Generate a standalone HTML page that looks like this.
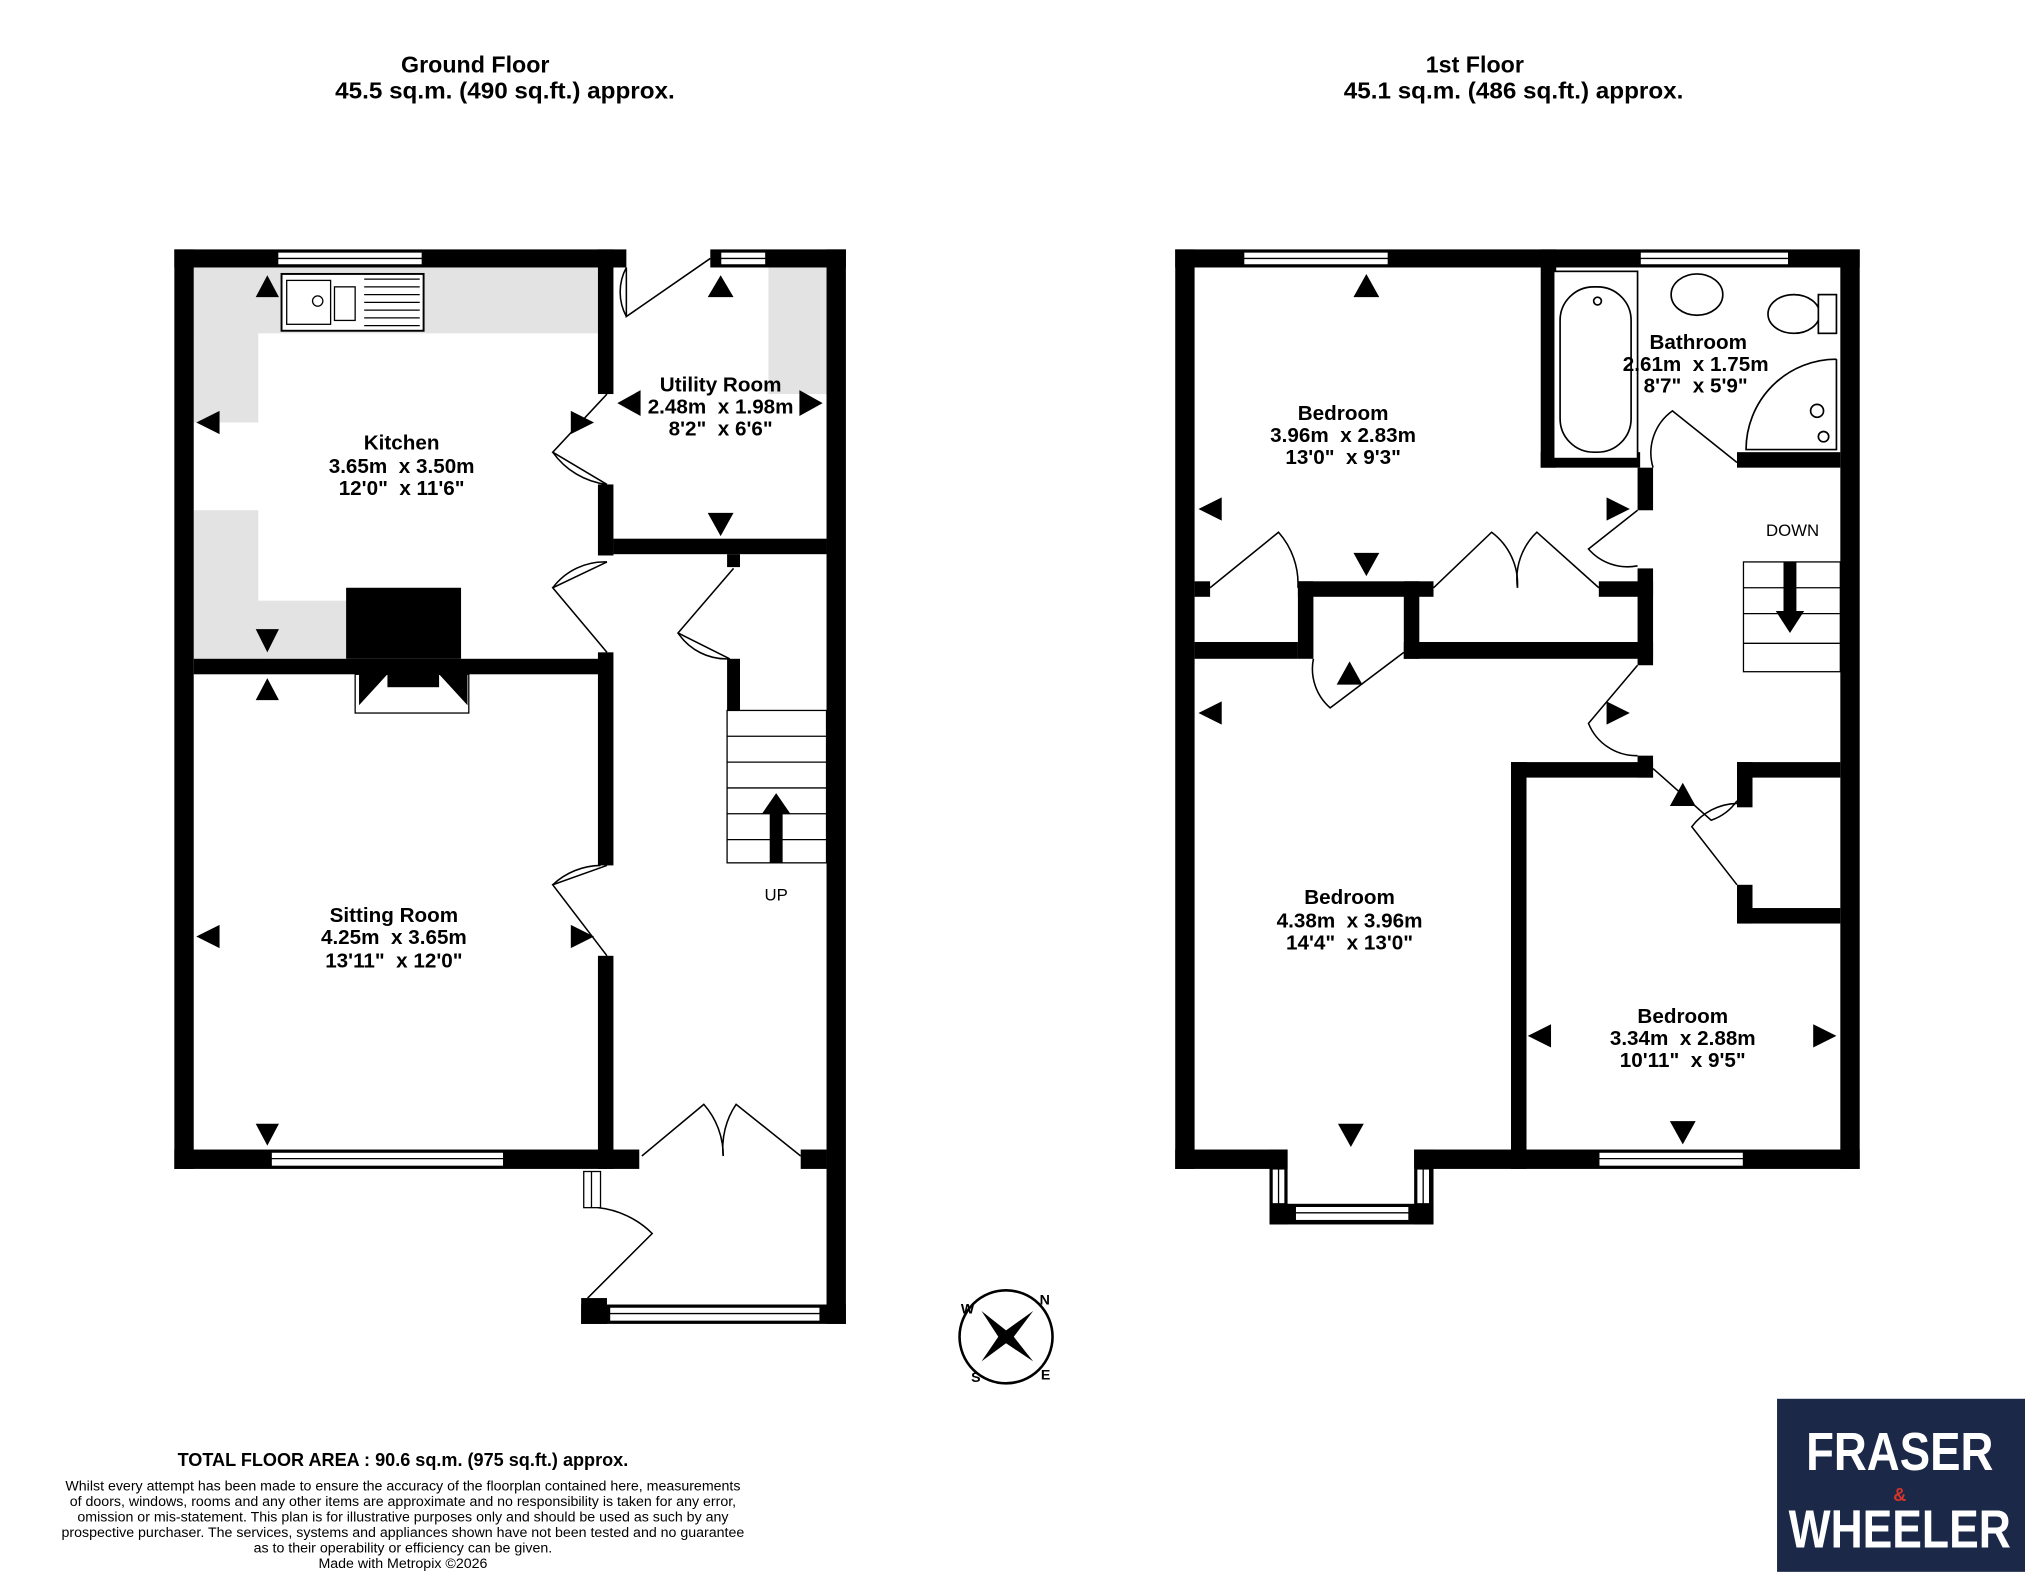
<!DOCTYPE html>
<html><head><meta charset="utf-8"><style>
html,body{margin:0;padding:0;background:#fff;}
svg{display:block;}
text{font-family:"Liberation Sans",Arial,sans-serif;fill:#000;white-space:pre;}
.b{font-weight:bold;}
</style></head><body>
<svg width="2025" height="1572" viewBox="0 0 1568 1217" xmlns="http://www.w3.org/2000/svg" xml:space="preserve">
<rect width="1568" height="1217" fill="#fff"/>
<!-- headings -->
<text x="368" y="56" font-size="18" class="b" text-anchor="middle">Ground Floor</text>
<text x="391" y="76" font-size="18" class="b" text-anchor="middle" textLength="263" lengthAdjust="spacingAndGlyphs">45.5 sq.m. (490 sq.ft.) approx.</text>
<text x="1142" y="56" font-size="18" class="b" text-anchor="middle">1st Floor</text>
<text x="1172" y="76" font-size="18" class="b" text-anchor="middle" textLength="263" lengthAdjust="spacingAndGlyphs">45.1 sq.m. (486 sq.ft.) approx.</text>

<!-- ground floor greys -->
<g fill="#e3e3e3">
<rect x="150" y="207" width="313" height="51"/>
<rect x="150" y="207" width="50" height="120"/>
<rect x="150" y="395" width="50" height="115"/>
<rect x="150" y="465" width="118" height="45"/>
<rect x="595" y="207" width="45" height="98"/>
</g>
<!-- sink -->
<rect x="218" y="212" width="110" height="44" fill="#fff" stroke="#000" stroke-width="1.5"/>
<rect x="222" y="217" width="34" height="34" fill="none" stroke="#000"/>
<rect x="259" y="222" width="16" height="26" fill="none" stroke="#000"/>
<circle cx="246" cy="233" r="4" fill="none" stroke="#000"/>
<g stroke="#000" stroke-width="1"><line x1="282" y1="216" x2="325" y2="216"/><line x1="282" y1="222" x2="325" y2="222"/><line x1="282" y1="228" x2="325" y2="228"/><line x1="282" y1="234" x2="325" y2="234"/><line x1="282" y1="240" x2="325" y2="240"/><line x1="282" y1="246" x2="325" y2="246"/><line x1="282" y1="252" x2="325" y2="252"/></g>

<g fill="#000">
<rect x="135" y="193" width="350" height="14"/>
<rect x="550" y="193" width="105" height="14"/>
<rect x="135" y="193" width="15" height="712"/>
<rect x="135" y="890" width="335" height="15"/>
<rect x="463" y="193" width="12" height="112"/>
<rect x="463" y="375" width="12" height="55"/>
<rect x="463" y="505" width="12" height="165"/>
<rect x="463" y="740" width="12" height="165"/>
<rect x="640" y="193" width="15" height="832"/>
<rect x="475" y="417" width="165" height="12"/>
<rect x="150" y="510" width="320" height="12"/>
<rect x="463" y="890" width="32" height="15"/>
<rect x="620" y="890" width="20" height="15"/>
<rect x="563" y="429" width="10" height="10"/>
<rect x="563" y="510" width="10" height="40"/>
<rect x="450" y="1005" width="20" height="20"/>
<rect x="450" y="1010" width="205" height="15"/>
<rect x="268" y="455" width="89" height="55"/>
<rect x="275" y="522" width="88" height="30" fill="#fff" stroke="#000" stroke-width="1"/>
<polygon points="278,522 300,522 278,546"/>
<polygon points="340,522 362,522 362,546"/>
<rect x="300" y="522" width="40" height="10"/>
<rect x="910" y="193" width="530" height="14"/>
<rect x="910" y="193" width="15" height="712"/>
<rect x="1425" y="193" width="15" height="712"/>
<rect x="910" y="890" width="87" height="15"/>
<rect x="1095" y="890" width="345" height="15"/>
<rect x="983" y="890" width="14" height="58"/>
<rect x="1095" y="890" width="15" height="58"/>
<rect x="983" y="932" width="127" height="16"/>
<rect x="1193" y="193" width="12" height="169"/>
<rect x="1193" y="350" width="77" height="12"/>
<rect x="1345" y="350" width="80" height="12"/>
<rect x="925" y="450" width="12" height="12"/>
<rect x="1005" y="450" width="105" height="12"/>
<rect x="1238" y="450" width="42" height="12"/>
<rect x="1005" y="450" width="12" height="60"/>
<rect x="1087" y="450" width="12" height="60"/>
<rect x="925" y="497" width="80" height="13"/>
<rect x="1087" y="497" width="193" height="13"/>
<rect x="1268" y="362" width="12" height="33"/>
<rect x="1268" y="440" width="12" height="75"/>
<rect x="1268" y="585" width="12" height="17"/>
<rect x="1170" y="590" width="110" height="12"/>
<rect x="1345" y="590" width="80" height="12"/>
<rect x="1170" y="590" width="12" height="315"/>
<rect x="1345" y="590" width="12" height="35"/>
<rect x="1345" y="685" width="12" height="30"/>
<rect x="1345" y="703" width="80" height="12"/>
</g>

<g fill="#fff" stroke="#000" stroke-width="1">
<rect x="215" y="195" width="112" height="10"/><line x1="215" y1="200" x2="327" y2="200"/>
<rect x="558" y="195" width="35" height="10"/><line x1="558" y1="200" x2="593" y2="200"/>
<rect x="210" y="892" width="180" height="11"/><line x1="210" y1="897" x2="390" y2="897"/>
<rect x="452" y="907" width="13" height="28"/><line x1="458" y1="907" x2="458" y2="935"/>
<rect x="472" y="1012" width="163" height="11"/><line x1="472" y1="1017" x2="635" y2="1017"/>
<rect x="963" y="195" width="112" height="10"/><line x1="963" y1="200" x2="1075" y2="200"/>
<rect x="1270" y="195" width="115" height="10"/><line x1="1270" y1="200" x2="1385" y2="200"/>
<rect x="1238" y="892" width="112" height="11"/><line x1="1238" y1="897" x2="1350" y2="897"/>
<rect x="985" y="905" width="10" height="27"/><line x1="990" y1="905" x2="990" y2="932"/>
<rect x="1097" y="905" width="10" height="27"/><line x1="1102" y1="905" x2="1102" y2="932"/>
<rect x="1003" y="934" width="88" height="11"/><line x1="1003" y1="939" x2="1091" y2="939"/>
</g>

<g fill="none" stroke="#000" stroke-width="1.2">
<path d="M485 207 L485 245 L550 200"/><path d="M485 245 A40 40 0 0 1 485 207" />
<path d="M470 305 L428 350 L470 375"/><path d="M428 350 A60 60 0 0 0 470 375"/>
<path d="M470 505 L428 455 L470 435"/><path d="M428 455 A50 50 0 0 1 470 435"/>
<path d="M470 670 L428 685 L470 740"/><path d="M428 685 A55 55 0 0 1 465 670"/>
<path d="M568 440 L525 490 L565 510"/><path d="M525 490 A45 45 0 0 0 565 510"/>
<path d="M497 895 L545 855 A60 60 0 0 1 560 895"/>
<path d="M620 895 L570 855 A60 60 0 0 0 560 895"/>
<path d="M455 1005 L505 955 A70 70 0 0 0 463 935"/>
<path d="M937 455 L990 412 A60 60 0 0 1 1005 455"/>
<path d="M1110 455 L1155 412 A50 50 0 0 1 1175 455"/>
<path d="M1238 455 L1190 412 A50 50 0 0 0 1175 455"/>
<path d="M1017 510 A40 40 0 0 0 1030 548 L1087 505"/>
<path d="M1268 395 L1230 425 A40 40 0 0 0 1268 438"/>
<path d="M1268 515 L1230 560 A40 40 0 0 0 1268 585"/>
<path d="M1280 595 L1325 635 A40 40 0 0 0 1345 620"/>
<path d="M1345 685 L1310 640 A45 45 0 0 1 1345 622"/>
<path d="M1280 362 A40 40 0 0 1 1295 318 L1345 358"/>
</g>

<g fill="none" stroke="#000" stroke-width="1">
<rect x="563" y="550" width="77" height="118"/>
<line x1="563" y1="570" x2="640" y2="570"/><line x1="563" y1="590" x2="640" y2="590"/>
<line x1="563" y1="610" x2="640" y2="610"/><line x1="563" y1="630" x2="640" y2="630"/>
<line x1="563" y1="650" x2="640" y2="650"/>
<rect x="1350" y="435" width="75" height="85"/>
<line x1="1350" y1="455" x2="1425" y2="455"/><line x1="1350" y1="475" x2="1425" y2="475"/>
<line x1="1350" y1="498" x2="1425" y2="498"/>
</g>
<g fill="#000">
<rect x="596" y="630" width="10" height="38"/><polygon points="590,630 612,630 601,614"/>
<rect x="1381" y="435" width="10" height="40"/><polygon points="1375,473 1397,473 1386,490"/>
</g>
<text x="601" y="697" font-size="13" text-anchor="middle">UP</text>
<text x="1388" y="415" font-size="13" text-anchor="middle">DOWN</text>

<g fill="#fff" stroke="#000" stroke-width="1.3">
<rect x="1203" y="210" width="65" height="145"/>
<rect x="1208" y="222" width="55" height="128" rx="26"/>
<circle cx="1237" cy="233" r="3"/>
<ellipse cx="1314" cy="228" rx="20" ry="16"/>
<ellipse cx="1389" cy="243" rx="20" ry="15"/>
<rect x="1408" y="228" width="14" height="30"/>
<path d="M1422 278 L1422 348 L1352 348 A70 70 0 0 1 1422 278"/>
<circle cx="1407" cy="318" r="5"/><circle cx="1412" cy="338" r="4"/>
</g>

<g fill="#000">
<polygon points="198,230 216,230 207,213"/>
<polygon points="548,230 568,230 558,213"/>
<polygon points="152,327 170,318 170,336"/>
<polygon points="460,327 442,318 442,336"/>
<polygon points="478,312 496,302 496,322"/>
<polygon points="637,312 619,302 619,322"/>
<polygon points="548,397 568,397 558,415"/>
<polygon points="198,487 216,487 207,505"/>
<polygon points="198,542 216,542 207,525"/>
<polygon points="152,725 170,716 170,734"/>
<polygon points="460,725 442,716 442,734"/>
<polygon points="198,870 216,870 207,887"/>
<polygon points="1048,230 1068,230 1058,212"/>
<polygon points="928,394 946,385 946,403"/>
<polygon points="1048,428 1068,428 1058,446"/>
<polygon points="1035,530 1055,530 1045,512"/>
<polygon points="928,552 946,543 946,561"/>
<polygon points="1262,394 1244,385 1244,403"/>
<polygon points="1262,552 1244,543 1244,561"/>
<polygon points="1293,624 1313,624 1303,606"/>
<polygon points="1183,802 1201,793 1201,811"/>
<polygon points="1422,802 1404,793 1404,811"/>
<polygon points="1036,870 1056,870 1046,888"/>
<polygon points="1293,868 1313,868 1303,886"/>
</g>

<g class="b" text-anchor="middle" font-size="16">
<text x="311" y="348">Kitchen</text><text x="311" y="366">3.65m  x 3.50m</text><text x="311" y="383">12'0"  x 11'6"</text>
<text x="558" y="303">Utility Room</text><text x="558" y="320">2.48m  x 1.98m</text><text x="558" y="337">8'2"  x 6'6"</text>
<text x="305" y="714">Sitting Room</text><text x="305" y="731">4.25m  x 3.65m</text><text x="305" y="749">13'11"  x 12'0"</text>
<text x="1040" y="325">Bedroom</text><text x="1040" y="342">3.96m  x 2.83m</text><text x="1040" y="359">13'0"  x 9'3"</text>
<text x="1315" y="270">Bathroom</text><text x="1313" y="287">2.61m  x 1.75m</text><text x="1313" y="304">8'7"  x 5'9"</text>
<text x="1045" y="700">Bedroom</text><text x="1045" y="718">4.38m  x 3.96m</text><text x="1045" y="735">14'4"  x 13'0"</text>
<text x="1303" y="792">Bedroom</text><text x="1303" y="809">3.34m  x 2.88m</text><text x="1303" y="826">10'11"  x 9'5"</text>
</g>

<!-- compass -->
<circle cx="779" cy="1035" r="36" fill="none" stroke="#000" stroke-width="2"/>
<polygon points="800,1015 785,1035 800,1054 779,1040 760,1054 773,1035 760,1015 779,1030" fill="#000"/>
<text x="805" y="1010" font-size="11" font-weight="bold">N</text>
<text x="744" y="1017" font-size="11" font-weight="bold">W</text>
<text x="806" y="1068" font-size="11" font-weight="bold">E</text>
<text x="752" y="1070" font-size="11" font-weight="bold">S</text>

<text x="312" y="1135" font-size="14" class="b" text-anchor="middle">TOTAL FLOOR AREA : 90.6 sq.m. (975 sq.ft.) approx.</text>
<g font-size="11" text-anchor="middle">
<text x="312" y="1154">Whilst every attempt has been made to ensure the accuracy of the floorplan contained here, measurements</text>
<text x="312" y="1166">of doors, windows, rooms and any other items are approximate and no responsibility is taken for any error,</text>
<text x="312" y="1178">omission or mis-statement. This plan is for illustrative purposes only and should be used as such by any</text>
<text x="312" y="1190">prospective purchaser. The services, systems and appliances shown have not been tested and no guarantee</text>
<text x="312" y="1202">as to their operability or efficiency can be given.</text>
<text x="312" y="1214">Made with Metropix ©2026</text>
</g>

<rect x="1376" y="1083" width="192" height="134" fill="#1b2847"/>
<text x="1471" y="1138" font-size="42" class="b" text-anchor="middle" style="fill:#fff" textLength="145" lengthAdjust="spacingAndGlyphs">FRASER</text>
<text x="1471" y="1162" font-size="14" class="b" text-anchor="middle" style="fill:#d9342b">&amp;</text>
<text x="1471" y="1198" font-size="42" class="b" text-anchor="middle" style="fill:#fff" textLength="172" lengthAdjust="spacingAndGlyphs">WHEELER</text>
</svg>
</body></html>
